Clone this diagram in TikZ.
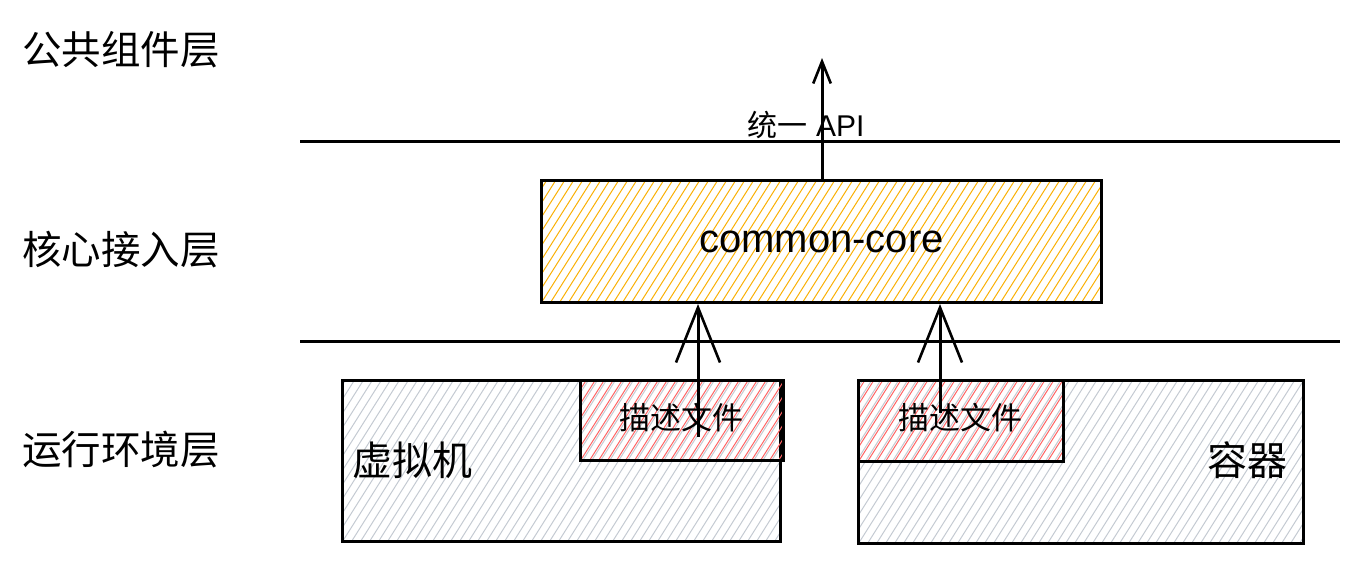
\documentclass[tikz,border=0pt]{standalone}
\usepackage{fontspec}
\setmainfont{Liberation Sans}
\newfontfamily\cjk{Noto Sans CJK SC}
\usepackage{tikz}
\usetikzlibrary{positioning, arrows.meta}

\definecolor{hatchorange}{RGB}{250,176,5}
\definecolor{hatchred}{RGB}{255,100,100}
\definecolor{hatchgray}{RGB}{196,202,210}

\tikzset{
  hatch/.style={path picture={
      \foreach \k in {-16,...,70}
        \draw[#1, line width=1pt]
          ([xshift=\k*9pt]path picture bounding box.south west) -- ++(115,-182);
  }},
  layerbox/.style={draw, line width=3pt, inner sep=0pt, anchor=north west},
  layername/.style={anchor=west, inner sep=0pt, font=\cjk\fontsize{39.5}{45}\selectfont},
  up/.style={-{Straight Barb[length=#1, width=0.8*#1, line width=2.6pt]}, line width=3pt},
}

\begin{document}
\begin{tikzpicture}[x=1pt, y=-1pt]
    \useasboundingbox (0,0) rectangle (1359,560);

    % livelli
    \node[layername] (common) at (22,50) {公共组件层};
    \node[layername] (access) at (22,250) {核心接入层};
    \node[layername] (runtime) at (22,450) {运行环境层};

    % separatori
    \draw[line width=3pt] (300,141) -- (1340,141);
    \draw[line width=3pt] (300,341) -- (1340,341);

    % common-core
    \node[layerbox, hatch=hatchorange, minimum width=560pt, minimum height=122pt] (core) at (540,179) {};
    \node[font=\fontsize{40}{46}\selectfont] (corelabel) at (core.center) {common-core};

    % ambienti
    \node[layerbox, hatch=hatchgray, minimum width=438pt, minimum height=161pt] (vm) at (341,379) {};
    \node[layerbox, hatch=hatchgray, minimum width=445pt, minimum height=163pt] (ctr) at (857,379) {};
    \node[layerbox, hatch=hatchred, minimum width=203pt, minimum height=80pt] (descvm) at (579,379) {};
    \node[layerbox, hatch=hatchred, minimum width=205pt, minimum height=81pt] (descctr) at (857,379) {};

    \node[anchor=west, inner sep=0pt, font=\cjk\fontsize{40}{46}\selectfont] (vmlabel) at (352,460) {虚拟机};
    \node[anchor=east, inner sep=0pt, font=\cjk\fontsize{40}{46}\selectfont] (ctrlabel) at (1288,460) {容器};
    \node[inner sep=0pt, font=\cjk\fontsize{31}{36}\selectfont] (descvmlabel) at (681,418) {描述文件};
    \node[inner sep=0pt, font=\cjk\fontsize{31}{36}\selectfont] (descctrlabel) at (960,418) {描述文件};

    % frecce
    \coordinate (invm) at (698,437);
    \coordinate (inctr) at (940,413);
    \coordinate (api) at (822,58);
    \draw[up=55pt] (invm) -- (invm |- core.south);
    \draw[up=55pt] (inctr) -- (inctr |- core.south);
    \draw[up=22pt] (api |- core.north) -- (api);

    \node[inner sep=0pt, font=\fontsize{30}{34}\selectfont] (apilabel) at (806,125) {{\cjk 统一} API};

\end{tikzpicture}
\end{document}
